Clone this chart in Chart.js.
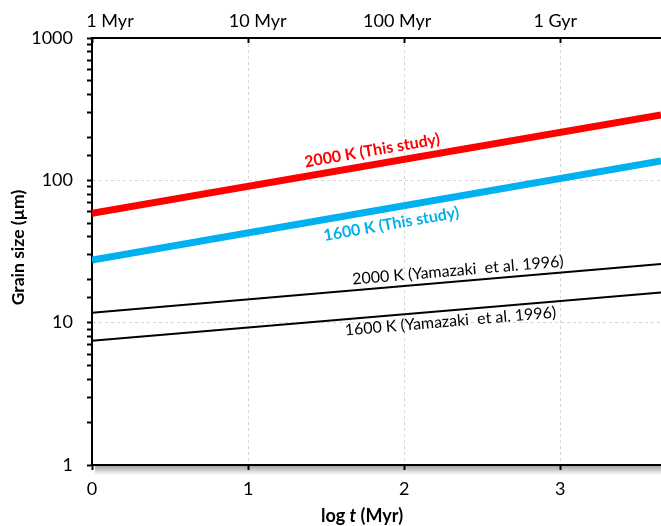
<!DOCTYPE html>
<html>
<head>
<meta charset="utf-8">
<script src="https://cdn.jsdelivr.net/npm/chart.js@4"></script>
<style>
  html, body { margin: 0; padding: 0; background: #fff; }
  #wrap { width: 661px; height: 526px; }
</style>
</head>
<body>
<div id="wrap"><canvas id="chart" width="661" height="526"></canvas></div>
<script>
// log t (Myr) at the two ends of each line
const logTime = [0, 3.645];
// grain size (um) at those ends
const hot2000This = [58.7, 288];
const hot1600This = [27.5, 137];
const yama2000 = [11.75, 25.8];
const yama1600 = [7.47, 16.3];

const xTicks = [0, 1, 2, 3];
const topLabels = ['1 Myr', '10 Myr', '100 Myr', '1 Gyr'];
const yMin = 1, yMax = 1000;

const FONT = 'Lato, "Open Sans", sans-serif';
const GRID = '#d6d6d6';

const pts = (ys) => logTime.map((x, i) => ({ x: x, y: ys[i] }));

// labels that sit along the lines
const lineLabels = [
  { ds: 0, text: '2000 K (This study)', color: '#ff0000', bold: true, at: 1.81, off: 14 },
  { ds: 1, text: '1600 K (This study)', color: '#00b0f0', bold: true, at: 1.90, off: -16 },
  { ds: 2, text: '2000 K (Yamazaki  et al. 1996)', color: '#000', bold: false, at: 2.35, off: 11 },
  { ds: 3, text: '1600 K (Yamazaki  et al. 1996)', color: '#000', bold: false, at: 2.29, off: -11 }
];
const topShift = [18, 9.5, -7, -5];

const overlay = {
  id: 'overlay',
  afterDraw(chart) {
    const ctx = chart.ctx;
    const xs = chart.scales.x, ys = chart.scales.y;
    const area = chart.chartArea;

    // soft shadow under the bottom axis
    ctx.save();
    const g = ctx.createLinearGradient(0, area.bottom + 1, 0, area.bottom + 10);
    g.addColorStop(0, 'rgba(0,0,0,0.35)');
    g.addColorStop(1, 'rgba(0,0,0,0)');
    ctx.fillStyle = g;
    ctx.fillRect(area.left + 3, area.bottom + 1, area.right - area.left, 9);
    ctx.restore();

    // line labels
    lineLabels.forEach(l => {
      const d = chart.data.datasets[l.ds].data;
      const x0 = xs.getPixelForValue(d[0].x), y0 = ys.getPixelForValue(d[0].y);
      const x1 = xs.getPixelForValue(d[1].x), y1 = ys.getPixelForValue(d[1].y);
      const ang = Math.atan2(y1 - y0, x1 - x0);
      const px = xs.getPixelForValue(l.at);
      const py = y0 + (y1 - y0) * (px - x0) / (x1 - x0);
      ctx.save();
      ctx.translate(px + Math.sin(ang) * l.off, py - Math.cos(ang) * l.off);
      ctx.rotate(ang);
      ctx.font = (l.bold ? 'bold ' : '') + '16px ' + FONT;
      ctx.fillStyle = l.color;
      ctx.textAlign = 'center';
      ctx.textBaseline = 'middle';
      ctx.fillText(l.text, 0, 0);
      ctx.restore();
    });

    // top time labels
    ctx.save();
    ctx.font = '18px ' + FONT;
    ctx.fillStyle = '#000';
    ctx.textAlign = 'center';
    ctx.textBaseline = 'alphabetic';
    xTicks.forEach((v, i) => {
      ctx.fillText(topLabels[i], xs.getPixelForValue(v) + topShift[i], 27);
    });
    ctx.restore();

    // axis titles
    ctx.save();
    ctx.fillStyle = '#000';
    ctx.textBaseline = 'middle';
    ctx.textAlign = 'left';
    const parts = [['bold 18px ', 'log '], ['italic bold 18px ', 't'], ['bold 18px ', ' (Myr)']];
    let w = 0;
    parts.forEach(p => { ctx.font = p[0] + FONT; w += ctx.measureText(p[1]).width; });
    let cx = 362 - w / 2;
    parts.forEach(p => {
      ctx.font = p[0] + FONT;
      ctx.fillText(p[1], cx, 516);
      cx += ctx.measureText(p[1]).width;
    });
    ctx.translate(18, (area.top + area.bottom) / 2 - 4);
    ctx.rotate(-Math.PI / 2);
    ctx.textAlign = 'center';
    ctx.font = 'bold 17.5px ' + FONT;
    ctx.fillText('Grain size (\u00b5m)', 0, 0);
    ctx.restore();
  }
};

const ctx = document.getElementById('chart').getContext('2d');

new Chart(ctx, {
  type: 'scatter',
  data: {
    datasets: [
      { data: pts(hot2000This), borderColor: '#ff0000', borderWidth: 7 },
      { data: pts(hot1600This), borderColor: '#00b0f0', borderWidth: 7 },
      { data: pts(yama2000), borderColor: '#000', borderWidth: 2 },
      { data: pts(yama1600), borderColor: '#000', borderWidth: 2 }
    ].map(d => Object.assign(d, { showLine: true, pointRadius: 0, borderCapStyle: 'butt' }))
  },
  options: {
    responsive: false,
    animation: false,
    events: [],
    layout: { padding: 0 },
    plugins: { legend: { display: false }, tooltip: { enabled: false } },
    scales: {
      x: {
        type: 'linear',
        position: 'bottom',
        min: logTime[0],
        max: logTime[1],
        afterFit: s => { s.height = 61; },
        afterBuildTicks: s => { s.ticks = xTicks.map(v => ({ value: v })); },
        ticks: { color: '#000', font: { family: FONT, size: 18 }, padding: 8, includeBounds: false, maxRotation: 0 },
        grid: {
          color: c => (c.tick && c.tick.value > 0 ? GRID : 'rgba(0,0,0,0)'),
          lineWidth: 1,
          tickColor: '#000',
          tickWidth: 2,
          tickLength: 5,
          tickBorderDash: []
        },
        border: { color: '#000', width: 2, dash: [3, 3] }
      },
      x2: {
        type: 'linear',
        position: 'top',
        min: logTime[0],
        max: logTime[1],
        afterFit: s => { s.height = 38; },
        afterBuildTicks: s => { s.ticks = xTicks.map(v => ({ value: v })); },
        ticks: { display: false },
        grid: { drawOnChartArea: false, tickColor: '#000', tickWidth: 2, tickLength: -5, tickBorderDash: [] },
        border: { color: '#000', width: 2 }
      },
      y: {
        type: 'logarithmic',
        position: 'left',
        min: yMin,
        max: yMax,
        afterFit: s => { s.width = 92; },
        ticks: {
          autoSkip: false,
          color: '#000',
          font: { family: FONT, size: 18 },
          padding: 14,
          callback: v => {
            const l = Math.log10(v);
            return Math.abs(l - Math.round(l)) < 1e-9 ? String(v) : '';
          }
        },
        grid: {
          color: c => (c.tick && (c.tick.value === 10 || c.tick.value === 100) ? GRID : 'rgba(0,0,0,0)'),
          lineWidth: 1,
          tickColor: '#000',
          tickWidth: 2,
          tickLength: 5,
          tickBorderDash: []
        },
        border: { color: '#000', width: 2, dash: [3, 3] }
      }
    }
  },
  plugins: [overlay]
});
</script>
</body>
</html>
